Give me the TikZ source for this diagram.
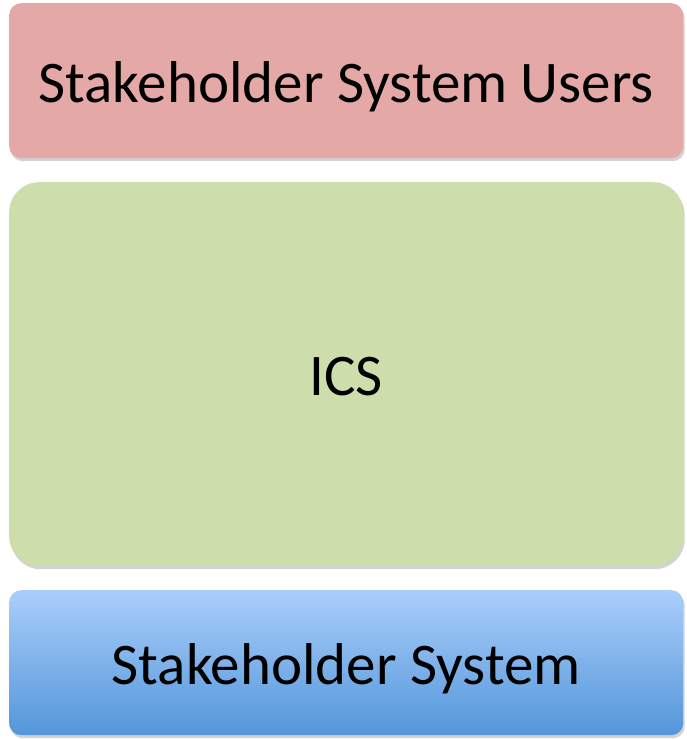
\documentclass[tikz,border=0pt]{standalone}
\usepackage{fontspec}
\setmainfont{Carlito}
\usetikzlibrary{shadows}
\definecolor{pinkbox}{HTML}{E4A8A7}
\definecolor{greenbox}{HTML}{CDDDAC}
\definecolor{bluetop}{HTML}{AACEFB}
\definecolor{bluebot}{HTML}{5496DA}
\tikzset{
  layer/.style={draw=none, minimum width=674pt, anchor=north west, inner sep=0pt,
    font=\fontsize{59}{66}\selectfont, text=black, text height=48pt, text depth=5pt,
    drop shadow={opacity=0.35, shadow xshift=1.5pt, shadow yshift=-3pt}},
}
\begin{document}
\begin{tikzpicture}[x=1pt,y=1pt]
\useasboundingbox (0,0) rectangle (686,739);
\node[layer, fill=pinkbox, rounded corners=12pt, minimum height=155pt] (users) at (9,736) {Stakeholder System Users};
\node[layer, fill=greenbox, rounded corners=30pt, minimum height=384pt] (ics) at (9,557) {ICS};
\node[layer, top color=bluetop, bottom color=bluebot, rounded corners=12pt, minimum height=145pt] (sys) at (9,149) {Stakeholder System};
\end{tikzpicture}
\end{document}
